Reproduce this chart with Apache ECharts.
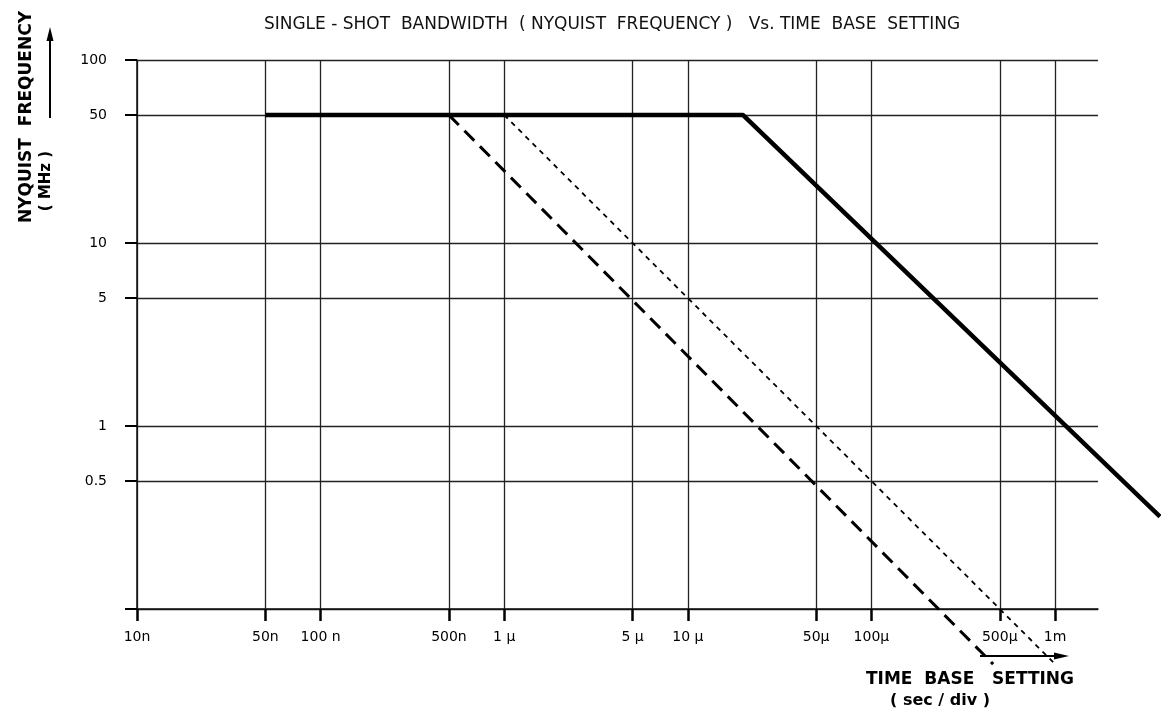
<!DOCTYPE html>
<html>
<head>
<meta charset="utf-8">
<style>html,body{margin:0;padding:0;background:#fff}#c{width:1161px;height:716px}</style>
<script src="https://cdn.jsdelivr.net/npm/echarts@6/dist/echarts.min.js"></script>
</head>
<body>
<div id="c"></div>
<script>
// Tick positions and labels
var xTickValues = [1e-8, 5e-8, 1e-7, 5e-7, 1e-6, 5e-6, 1e-5, 5e-5, 1e-4, 5e-4, 1e-3];
var xTickLabels = ['10n', '50n', '100 n', '500n', '1 µ', '5 µ', '10 µ', '50µ', '100µ', '500µ', '1m'];
var yTickValues = [0.1, 0.5, 1, 5, 10, 50, 100];
var yLabelValues = [0.5, 1, 5, 10, 50, 100];
var yTickLabels = ['0.5', '1', '5', '10', '50', '100'];

// Series (time base in s/div, Nyquist frequency in MHz)
var solidTime = [5e-8, 2.0e-5, 3.73e-3];
var solidFreq = [50, 50, 0.32];
var dashedTime = [5e-7, 4.6e-4];
var dashedFreq = [50, 0.05];
var dottedTime = [1e-6, 1e-3];
var dottedFreq = [50, 0.05];

function pairs(xs, ys) { return xs.map(function (x, i) { return [x, ys[i]]; }); }
function findLabel(vals, labels, v) {
  for (var i = 0; i < vals.length; i++) {
    if (Math.abs(Math.log10(v) - Math.log10(vals[i])) < 0.01) return labels[i];
  }
  return '';
}

var FONT = 'DejaVu Sans';
var chart = echarts.init(document.getElementById('c'), null, {renderer: 'canvas'});
chart.setOption({
  animation: false,
  backgroundColor: '#fff',
  title: {
    text: 'SINGLE - SHOT  BANDWIDTH  ( NYQUIST  FREQUENCY )   Vs. TIME  BASE  SETTING',
    left: 607, top: 11, textAlign: 'center',
    textStyle: {fontFamily: FONT, fontSize: 17, fontWeight: 'normal', color: '#111'}
  },
  grid: [
    {left: 137, right: 63, top: 60, bottom: 107, containLabel: false},
    {left: 137, right: 0, top: 60, bottom: 107, containLabel: false}
  ],
  xAxis: [{
    type: 'log', logBase: 10, min: 1e-8, max: 1.714e-3, gridIndex: 0,
    axisLine: {show: true, lineStyle: {color: '#111', width: 1.5}},
    axisTick: {show: true, customValues: xTickValues, length: 12, inside: false, lineStyle: {color: '#000', width: 2.5}},
    axisLabel: {
      customValues: xTickValues, margin: 21, color: '#000', fontFamily: FONT, fontSize: 14,
      formatter: function (v) { return findLabel(xTickValues, xTickLabels, v); }
    },
    splitLine: {show: true, lineStyle: {color: '#222', width: 1.3}},
    minorTick: {show: false}, minorSplitLine: {show: false}
  }, {
    type: 'log', logBase: 10, min: 1e-8, max: 3.776e-3, gridIndex: 1, show: false,
    splitLine: {show: false}
  }],
  yAxis: [{
    type: 'log', logBase: 10, min: 0.1, max: 100, gridIndex: 0,
    axisLine: {show: true, lineStyle: {color: '#111', width: 1.5}},
    axisTick: {show: true, customValues: yTickValues, length: 12, inside: false, lineStyle: {color: '#000', width: 2}},
    axisLabel: {
      customValues: yLabelValues, margin: 30, color: '#000', fontFamily: FONT, fontSize: 14,
      formatter: function (v) { return findLabel(yLabelValues, yTickLabels, v); }
    },
    splitLine: {show: true, lineStyle: {color: '#222', width: 1.4}},
    minorTick: {show: false}, minorSplitLine: {show: false}
  }, {
    type: 'log', logBase: 10, min: 0.1, max: 100, gridIndex: 1, show: false,
    splitLine: {show: false}
  }],
  series: [
    {type: 'line', xAxisIndex: 1, yAxisIndex: 1, data: pairs(solidTime, solidFreq), symbol: 'none', clip: false,
     lineStyle: {color: '#000', width: 4.5}},
    {type: 'line', xAxisIndex: 1, yAxisIndex: 1, data: pairs(dashedTime, dashedFreq), symbol: 'none', clip: false,
     lineStyle: {color: '#000', width: 3, type: [14, 8]}},
    {type: 'line', xAxisIndex: 1, yAxisIndex: 1, data: pairs(dottedTime, dottedFreq), symbol: 'none', clip: false,
     lineStyle: {color: '#000', width: 1.8, type: [5, 5]}}
  ],
  graphic: [
    {type: 'text', x: 27, y: 117, rotation: Math.PI / 2,
     style: {text: 'NYQUIST  FREQUENCY', fontFamily: FONT, fontSize: 17, fontWeight: 'bold', fill: '#000', textAlign: 'center', textVerticalAlign: 'middle'}},
    {type: 'text', x: 46, y: 181, rotation: Math.PI / 2,
     style: {text: '( MHz )', fontFamily: FONT, fontSize: 15, fontWeight: 'bold', fill: '#000', textAlign: 'center', textVerticalAlign: 'middle'}},
    {type: 'line', shape: {x1: 50, y1: 118, x2: 50, y2: 38}, style: {stroke: '#000', lineWidth: 2}},
    {type: 'polygon', shape: {points: [[50, 27], [46.5, 41], [53.5, 41]]}, style: {fill: '#000'}},
    {type: 'line', shape: {x1: 980, y1: 656, x2: 1056, y2: 656}, style: {stroke: '#000', lineWidth: 2}},
    {type: 'polygon', shape: {points: [[1069, 656], [1054, 652.5], [1054, 659.5]]}, style: {fill: '#000'}},
    {type: 'text', x: 970, y: 680,
     style: {text: 'TIME  BASE   SETTING', fontFamily: FONT, fontSize: 17, fontWeight: 'bold', fill: '#000', textAlign: 'center', textVerticalAlign: 'middle'}},
    {type: 'text', x: 940, y: 701,
     style: {text: '( sec / div )', fontFamily: FONT, fontSize: 16, fontWeight: 'bold', fill: '#000', textAlign: 'center', textVerticalAlign: 'middle'}}
  ]
});
</script>
</body>
</html>
